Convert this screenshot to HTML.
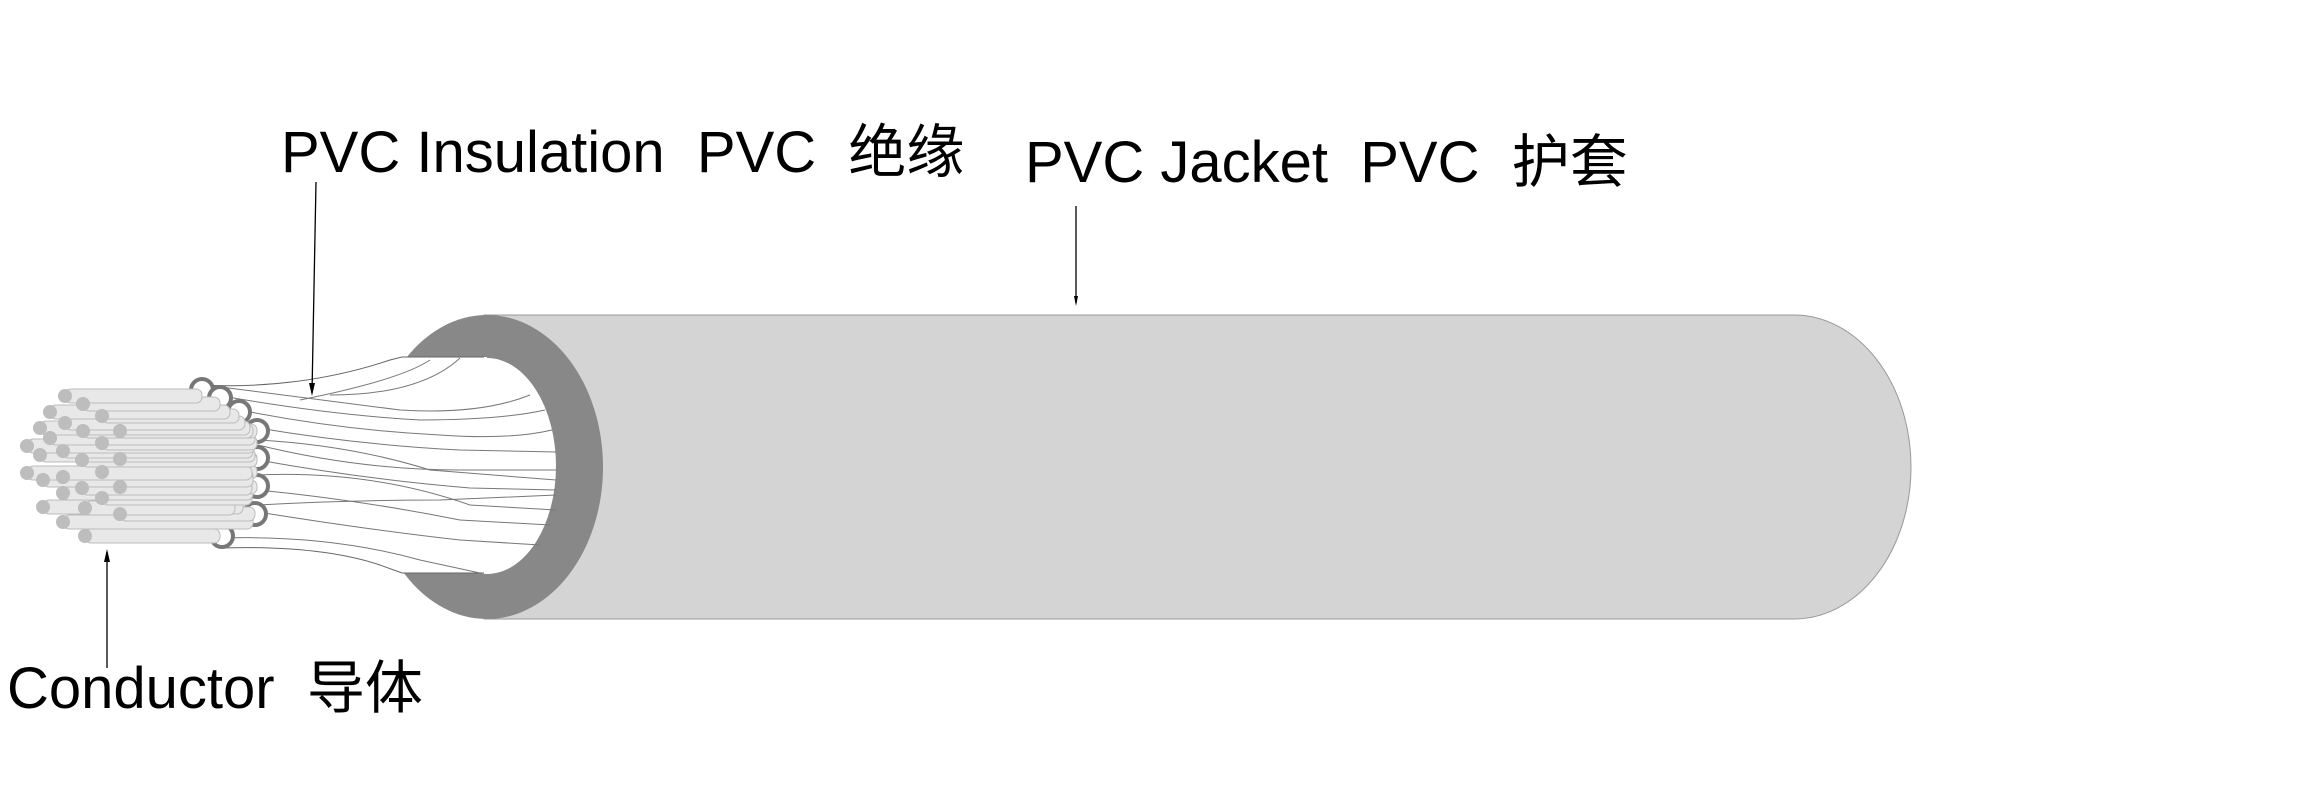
<!DOCTYPE html>
<html><head><meta charset="utf-8"><style>
html,body{margin:0;padding:0;background:#fff;}
svg{display:block}
text{font-family:"Liberation Sans","Noto Sans CJK SC",sans-serif;fill:#000;white-space:pre}
</style></head><body>
<svg width="2302" height="812" viewBox="0 0 2302 812" xmlns="http://www.w3.org/2000/svg" xml:space="preserve">
<!-- jacket body -->
<path d="M484,315 L1794,315 A117,152 0 0 1 1794,619 L484,619 Z" fill="#d4d4d4" stroke="#999" stroke-width="1"/>
<!-- dark ring -->
<ellipse cx="487" cy="467" rx="116" ry="152" fill="#888"/>
<rect x="360" y="357" width="127" height="216" fill="#fff"/>
<ellipse cx="487" cy="466" rx="69" ry="108" fill="#fff"/>
<!-- waist outline -->
<g fill="none" stroke="#666" stroke-width="1">
<path d="M200,385 Q300,390 390,360 L402,357"/>
<path d="M221,548 Q320,545 380,565 L402,573"/>
<path d="M402,357 L484,357"/>
<path d="M402,573 L484,573"/>
</g>
<!-- fibers -->
<g fill="none" stroke="#777" stroke-width="1">
<path d="M205,385 Q320,400 400,410 Q480,415 530,395"/>
<path d="M222,396 Q330,415 420,420 Q500,420 545,410"/>
<path d="M240,410 Q340,430 440,435 Q510,440 552,430"/>
<path d="M258,428 Q360,445 460,450 L556,452"/>
<path d="M258,445 Q360,470 460,470 L556,470"/>
<path d="M258,460 Q370,480 470,488 L556,490"/>
<path d="M258,475 Q370,470 470,505 L556,510"/>
<path d="M258,490 Q360,500 460,520 L550,525"/>
<path d="M258,512 Q370,530 460,540 L540,545"/>
<path d="M224,538 Q330,535 420,560 L480,573"/>
<path d="M258,505 Q350,500 440,500 L556,495"/>
<path d="M258,440 Q350,445 430,470 L556,480"/>
<path d="M300,400 Q400,380 430,360"/>
<path d="M330,395 Q420,395 460,358"/>
</g>
<!-- insulation ends -->
<g fill="#fff" stroke="#777" stroke-width="4">
<circle cx="202" cy="390" r="11"/>
<circle cx="220" cy="398" r="11"/>
<circle cx="239" cy="412" r="11"/>
<circle cx="257" cy="431" r="11"/>
<circle cx="257" cy="458" r="11"/>
<circle cx="257" cy="486" r="11"/>
<circle cx="255" cy="514" r="11"/>
<circle cx="222" cy="536" r="11"/>
</g>
<!-- strands -->
<g stroke="#bbb" stroke-width="1" fill="#e8e8e8">
<rect x="85" y="529" width="135" height="14" rx="6"/>
<rect x="63" y="515" width="190" height="14" rx="6"/>
<rect x="120" y="507" width="135" height="14" rx="6"/>
<rect x="43" y="500" width="200" height="14" rx="6"/>
<rect x="85" y="501" width="150" height="14" rx="6"/>
<rect x="102" y="491" width="150" height="14" rx="6"/>
<rect x="63" y="486" width="190" height="14" rx="6"/>
<rect x="120" y="480" width="137" height="14" rx="6"/>
<rect x="82" y="481" width="170" height="14" rx="6"/>
<rect x="102" y="465" width="155" height="14" rx="6"/>
<rect x="63" y="470" width="190" height="14" rx="6"/>
<rect x="43" y="473" width="210" height="14" rx="6"/>
<rect x="27" y="466" width="225" height="14" rx="6"/>
<rect x="120" y="452" width="137" height="14" rx="6"/>
<rect x="82" y="453" width="175" height="14" rx="6"/>
<rect x="40" y="448" width="215" height="14" rx="6"/>
<rect x="63" y="444" width="190" height="14" rx="6"/>
<rect x="27" y="439" width="228" height="14" rx="6"/>
<rect x="102" y="436" width="155" height="14" rx="6"/>
<rect x="50" y="431" width="205" height="14" rx="6"/>
<rect x="120" y="424" width="137" height="14" rx="6"/>
<rect x="83" y="424" width="170" height="14" rx="6"/>
<rect x="40" y="421" width="210" height="14" rx="6"/>
<rect x="65" y="416" width="180" height="14" rx="6"/>
<rect x="102" y="409" width="137" height="14" rx="6"/>
<rect x="50" y="405" width="180" height="14" rx="6"/>
<rect x="83" y="397" width="137" height="14" rx="6"/>
<rect x="65" y="389" width="137" height="14" rx="6"/>
</g>
<g fill="#bdbdbd">
<circle cx="65" cy="396" r="7"/><circle cx="83" cy="404" r="7"/><circle cx="50" cy="412" r="7"/><circle cx="102" cy="416" r="7"/>
<circle cx="40" cy="428" r="7"/><circle cx="65" cy="423" r="7"/><circle cx="83" cy="431" r="7"/><circle cx="120" cy="431" r="7"/>
<circle cx="27" cy="446" r="7"/><circle cx="50" cy="438" r="7"/><circle cx="40" cy="455" r="7"/><circle cx="63" cy="451" r="7"/>
<circle cx="102" cy="443" r="7"/><circle cx="82" cy="460" r="7"/><circle cx="120" cy="459" r="7"/><circle cx="27" cy="473" r="7"/>
<circle cx="43" cy="480" r="7"/><circle cx="63" cy="477" r="7"/><circle cx="102" cy="472" r="7"/><circle cx="82" cy="488" r="7"/>
<circle cx="120" cy="487" r="7"/><circle cx="63" cy="493" r="7"/><circle cx="102" cy="498" r="7"/><circle cx="43" cy="507" r="7"/>
<circle cx="85" cy="508" r="7"/><circle cx="120" cy="514" r="7"/><circle cx="63" cy="522" r="7"/><circle cx="85" cy="536" r="7"/>
</g>
<!-- pointers -->
<g stroke="#000" stroke-width="1.3" fill="none">
<line x1="316" y1="182" x2="312" y2="393"/>
<line x1="1076" y1="206" x2="1076" y2="303"/>
<line x1="107" y1="552" x2="107" y2="668"/>
</g>
<polygon points="312,396 309,383 315,383" fill="#000"/>
<polygon points="1076,306 1074,296 1078,296" fill="#000"/>
<polygon points="107,549 104,562 110,562" fill="#000"/>
<!-- labels -->
<text x="281" y="172" font-size="58">PVC Insulation  PVC  绝缘</text>
<text x="1025" y="182" font-size="58">PVC Jacket  PVC  护套</text>
<text x="7" y="708" font-size="58">Conductor  导体</text>
</svg>
</body></html>
